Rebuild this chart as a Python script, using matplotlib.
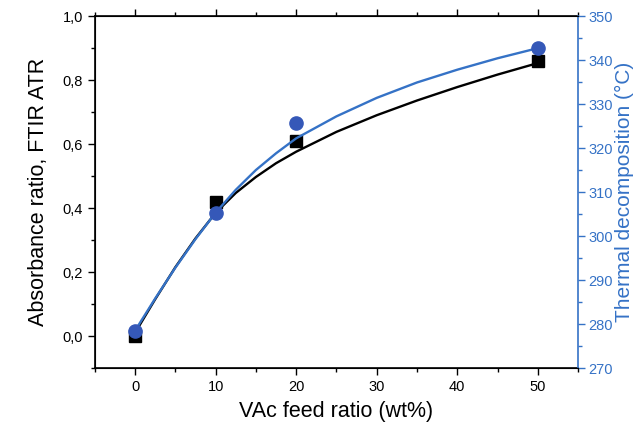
"""VAc feed ratio vs absorbance ratio and thermal decomposition
"""

import matplotlib
matplotlib.use("Agg")
import matplotlib.pyplot as plt
from matplotlib.ticker import MultipleLocator, FuncFormatter

plt.rcParams["font.family"] = ["Liberation Sans", "DejaVu Sans"]

# measured points
vac = [0, 10, 20, 50]
absorbance = [0.0, 0.42, 0.61, 0.86]
t_decomp = [278.5, 305.2, 325.7, 342.8]

# fitted curves
fit_x = [0, 2.5, 5, 7.5, 10, 12.5, 15, 17.5, 20, 25, 30, 35, 40, 45, 50]
fit_abs = [0.01, 0.115, 0.215, 0.305, 0.385, 0.447, 0.497, 0.54, 0.576,
           0.638, 0.69, 0.736, 0.778, 0.817, 0.853]
fit_t = [278.5, 285.8, 292.8, 299.3, 305.3, 310.5, 315.0, 318.8, 322.2,
         327.2, 331.4, 334.9, 337.8, 340.4, 342.7]

blue = "#3572c6"
mark_blue = "#3558b8"

fig = plt.figure(figsize=(6.36, 4.33), dpi=100)
ax = fig.add_axes([0.149, 0.150, 0.760, 0.813])
ax2 = ax.twinx()

ax.plot(fit_x, fit_abs, color="black", lw=1.7, zorder=2)
ax.plot(vac, absorbance, "s", color="black", ms=8.5, zorder=3)
ax2.plot(fit_x, fit_t, color=blue, lw=1.7, zorder=2)
ax2.plot(vac, t_decomp, "o", color=mark_blue, ms=9.5, zorder=3)

ax.set_xlim(-5, 55)
ax.set_ylim(-0.1, 1.0)
ax2.set_ylim(270, 350)

ax.xaxis.set_major_locator(MultipleLocator(10))
ax.xaxis.set_minor_locator(MultipleLocator(5))
ax.yaxis.set_major_locator(MultipleLocator(0.2))
ax.yaxis.set_minor_locator(MultipleLocator(0.1))
ax.yaxis.set_major_formatter(FuncFormatter(lambda v, p: f"{v:.1f}".replace(".", ",")))
ax2.yaxis.set_major_locator(MultipleLocator(10))
ax2.yaxis.set_minor_locator(MultipleLocator(5))

ax.tick_params(axis="both", which="major", direction="out", length=5, width=1,
               labelsize=10.5, top=False)
ax.tick_params(axis="both", which="minor", direction="out", length=3, width=1)
ax.tick_params(axis="x", which="both", top=True, labeltop=False)
ax2.tick_params(axis="y", which="major", direction="out", length=5, width=1,
                labelsize=10.5, colors=blue, pad=2.5)
ax2.tick_params(axis="y", which="minor", direction="out", length=3, width=1,
                colors=blue)

for s in ["left", "bottom", "top"]:
    ax.spines[s].set_linewidth(1.2)
ax2.spines["right"].set_color(blue)
ax2.spines["right"].set_linewidth(1.2)
ax.spines["right"].set_visible(False)

ax.set_xlabel("VAc feed ratio (wt%)", fontsize=15.5, labelpad=5)
ax.set_ylabel("Absorbance ratio, FTIR ATR", fontsize=15.5, labelpad=10)
ax2.set_ylabel("Thermal decomposition (°C)", fontsize=15, color=blue, labelpad=1)

fig.savefig("out.png", dpi=100)
